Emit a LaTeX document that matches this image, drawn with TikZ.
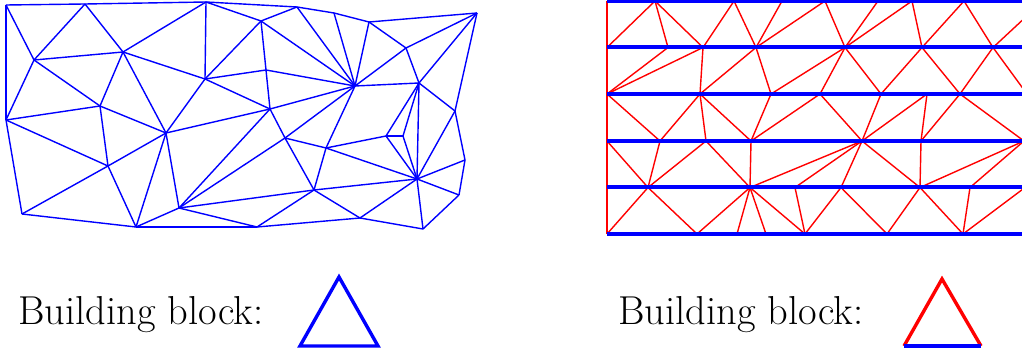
\documentclass[tikz,border=0pt]{standalone}
\usepackage{tikz}
\pgfdeclarelayer{edgelayer}
\pgfdeclarelayer{nodelayer}
\pgfsetlayers{edgelayer,nodelayer,main}
\tikzstyle{vertex}=[coordinate]
\tikzstyle{edge}=[draw=blue, line width=0.7pt]
\tikzstyle{redge}=[draw=red, line width=0.7pt]
\tikzstyle{layer}=[draw=blue, line width=2pt]
\tikzstyle{block}=[line width=1.7pt]
\tikzstyle{blocktext}=[anchor=base west, inner sep=0pt, font=\fontsize{20.2}{24}\selectfont]

\begin{document}
\begin{tikzpicture}[x=0.5pt, y=-0.5pt]
	\useasboundingbox (0, 0) rectangle (1022, 352);
	\begin{pgfonlayer}{nodelayer}
		% unstructured mesh
		\node [style=vertex] (0) at (6, 5) {};
		\node [style=vertex] (1) at (85, 4) {};
		\node [style=vertex] (2) at (206, 2) {};
		\node [style=vertex] (3) at (297, 7) {};
		\node [style=vertex] (4) at (334, 13) {};
		\node [style=vertex] (5) at (369, 22) {};
		\node [style=vertex] (6) at (477, 13) {};
		\node [style=vertex] (7) at (34, 60) {};
		\node [style=vertex] (8) at (123, 52) {};
		\node [style=vertex] (9) at (205, 79) {};
		\node [style=vertex] (10) at (261, 21) {};
		\node [style=vertex] (11) at (266, 70) {};
		\node [style=vertex] (12) at (355, 86) {};
		\node [style=vertex] (13) at (406, 48) {};
		\node [style=vertex] (14) at (419, 83) {};
		\node [style=vertex] (15) at (6, 120) {};
		\node [style=vertex] (16) at (100, 106) {};
		\node [style=vertex] (17) at (166, 133) {};
		\node [style=vertex] (18) at (270, 109) {};
		\node [style=vertex] (19) at (455, 111) {};
		\node [style=vertex] (20) at (108, 166) {};
		\node [style=vertex] (21) at (285, 138) {};
		\node [style=vertex] (22) at (326, 148) {};
		\node [style=vertex] (23) at (386, 136) {};
		\node [style=vertex] (24) at (403, 136) {};
		\node [style=vertex] (25) at (417, 179) {};
		\node [style=vertex] (26) at (465, 160) {};
		\node [style=vertex] (27) at (459, 195) {};
		\node [style=vertex] (28) at (22, 214) {};
		\node [style=vertex] (29) at (136, 227) {};
		\node [style=vertex] (30) at (179, 208) {};
		\node [style=vertex] (31) at (314, 190) {};
		\node [style=vertex] (32) at (360, 218) {};
		\node [style=vertex] (33) at (423, 229) {};
		\node [style=vertex] (34) at (257, 227) {};
		% layered mesh
		\node [style=vertex] (a0) at (607, 1) {};
		\node [style=vertex] (a1) at (655, 1) {};
		\node [style=vertex] (a2) at (734, 1) {};
		\node [style=vertex] (a3) at (782, 1) {};
		\node [style=vertex] (a4) at (825, 1) {};
		\node [style=vertex] (a5) at (878, 1) {};
		\node [style=vertex] (a6) at (912, 1) {};
		\node [style=vertex] (a7) at (964, 1) {};
		\node [style=vertex] (a8) at (1043, 1) {};
		\node [style=vertex] (b0) at (607, 47.5) {};
		\node [style=vertex] (b1) at (668, 47.5) {};
		\node [style=vertex] (b2) at (703, 47.5) {};
		\node [style=vertex] (b3) at (756, 47.5) {};
		\node [style=vertex] (b4) at (845, 47.5) {};
		\node [style=vertex] (b5) at (922, 47.5) {};
		\node [style=vertex] (b6) at (993, 47.5) {};
		\node [style=vertex] (b7) at (1030, 47.5) {};
		\node [style=vertex] (c0) at (607, 94) {};
		\node [style=vertex] (c1) at (700, 94) {};
		\node [style=vertex] (c2) at (771, 94) {};
		\node [style=vertex] (c3) at (820, 94) {};
		\node [style=vertex] (c4) at (881, 94) {};
		\node [style=vertex] (c5) at (927, 94) {};
		\node [style=vertex] (c6) at (960, 94) {};
		\node [style=vertex] (c7) at (1027, 94) {};
		\node [style=vertex] (d0) at (607, 141) {};
		\node [style=vertex] (d1) at (660, 141) {};
		\node [style=vertex] (d2) at (706, 141) {};
		\node [style=vertex] (d3) at (751, 141) {};
		\node [style=vertex] (d4) at (862, 141) {};
		\node [style=vertex] (d5) at (921, 141) {};
		\node [style=vertex] (d6) at (1024, 141) {};
		\node [style=vertex] (d7) at (1030, 141) {};
		\node [style=vertex] (e0) at (607, 187.5) {};
		\node [style=vertex] (e1) at (648, 187.5) {};
		\node [style=vertex] (e2) at (750, 187.5) {};
		\node [style=vertex] (e3) at (795, 187.5) {};
		\node [style=vertex] (e4) at (841, 187.5) {};
		\node [style=vertex] (e5) at (920, 187.5) {};
		\node [style=vertex] (e6) at (970, 187.5) {};
		\node [style=vertex] (e7) at (1025, 187.5) {};
		\node [style=vertex] (f0) at (607, 234) {};
		\node [style=vertex] (f1) at (697, 234) {};
		\node [style=vertex] (f2) at (737, 234) {};
		\node [style=vertex] (f3) at (766, 234) {};
		\node [style=vertex] (f4) at (805, 234) {};
		\node [style=vertex] (f5) at (887, 234) {};
		\node [style=vertex] (f6) at (963, 234) {};
		\node [style=vertex] (f7) at (1030, 234) {};
		% building blocks
		\node [style=vertex] (t1) at (300, 346) {};
		\node [style=vertex] (t2) at (339, 277) {};
		\node [style=vertex] (t3) at (378, 346) {};
		\node [style=vertex] (t4) at (904, 346) {};
		\node [style=vertex] (t5) at (942, 279) {};
		\node [style=vertex] (t6) at (981, 346) {};
	\end{pgfonlayer}
	\begin{pgfonlayer}{edgelayer}
		\draw [style=edge] (0) to (1);
		\draw [style=edge] (1) to (2);
		\draw [style=edge] (2) to (3);
		\draw [style=edge] (3) to (4);
		\draw [style=edge] (4) to (5);
		\draw [style=edge] (5) to (6);
		\draw [style=edge] (0) to (7);
		\draw [style=edge] (1) to (7);
		\draw [style=edge] (1) to (8);
		\draw [style=edge] (0) to (15);
		\draw [style=edge] (7) to (8);
		\draw [style=edge] (7) to (15);
		\draw [style=edge] (7) to (16);
		\draw [style=edge] (8) to (16);
		\draw [style=edge] (2) to (8);
		\draw [style=edge] (8) to (9);
		\draw [style=edge] (8) to (17);
		\draw [style=edge] (2) to (9);
		\draw [style=edge] (2) to (10);
		\draw [style=edge] (9) to (10);
		\draw [style=edge] (9) to (11);
		\draw [style=edge] (9) to (18);
		\draw [style=edge] (9) to (17);
		\draw [style=edge] (15) to (16);
		\draw [style=edge] (16) to (17);
		\draw [style=edge] (16) to (20);
		\draw [style=edge] (15) to (20);
		\draw [style=edge] (17) to (18);
		\draw [style=edge] (15) to (28);
		\draw [style=edge] (17) to (20);
		\draw [style=edge] (20) to (28);
		\draw [style=edge] (20) to (29);
		\draw [style=edge] (17) to (29);
		\draw [style=edge] (17) to (30);
		\draw [style=edge] (28) to (29);
		\draw [style=edge] (29) to (30);
		\draw [style=edge] (29) to (34);
		\draw [style=edge] (30) to (34);
		\draw [style=edge] (18) to (30);
		\draw [style=edge] (21) to (30);
		\draw [style=edge] (30) to (31);
		\draw [style=edge] (3) to (10);
		\draw [style=edge] (10) to (11);
		\draw [style=edge] (10) to (12);
		\draw [style=edge] (3) to (12);
		\draw [style=edge] (4) to (12);
		\draw [style=edge] (5) to (12);
		\draw [style=edge] (5) to (13);
		\draw [style=edge] (6) to (13);
		\draw [style=edge] (12) to (13);
		\draw [style=edge] (13) to (14);
		\draw [style=edge] (6) to (14);
		\draw [style=edge] (6) to (19);
		\draw [style=edge] (12) to (14);
		\draw [style=edge] (14) to (19);
		\draw [style=edge] (11) to (12);
		\draw [style=edge] (11) to (18);
		\draw [style=edge] (12) to (18);
		\draw [style=edge] (18) to (21);
		\draw [style=edge] (12) to (21);
		\draw [style=edge] (12) to (22);
		\draw [style=edge] (14) to (23);
		\draw [style=edge] (14) to (24);
		\draw [style=edge] (14) to (25);
		\draw [style=edge] (19) to (25);
		\draw [style=edge] (19) to (26);
		\draw [style=edge] (21) to (22);
		\draw [style=edge] (21) to (31);
		\draw [style=edge] (22) to (23);
		\draw [style=edge] (22) to (31);
		\draw [style=edge] (22) to (25);
		\draw [style=edge] (23) to (24);
		\draw [style=edge] (23) to (25);
		\draw [style=edge] (24) to (25);
		\draw [style=edge] (25) to (26);
		\draw [style=edge] (25) to (27);
		\draw [style=edge] (25) to (33);
		\draw [style=edge] (25) to (32);
		\draw [style=edge] (25) to (31);
		\draw [style=edge] (26) to (27);
		\draw [style=edge] (27) to (33);
		\draw [style=edge] (31) to (32);
		\draw [style=edge] (31) to (34);
		\draw [style=edge] (32) to (34);
		\draw [style=edge] (32) to (33);
		% red edges between the layers
		\draw [style=redge] (a0) to (f0);
		\draw [style=redge] (a1) to (b0);
		\draw [style=redge] (a1) to (b1);
		\draw [style=redge] (a1) to (b2);
		\draw [style=redge] (a2) to (b2);
		\draw [style=redge] (a2) to (b3);
		\draw [style=redge] (a3) to (b3);
		\draw [style=redge] (a4) to (b3);
		\draw [style=redge] (a4) to (b4);
		\draw [style=redge] (a5) to (b4);
		\draw [style=redge] (a6) to (b4);
		\draw [style=redge] (a6) to (b5);
		\draw [style=redge] (a7) to (b5);
		\draw [style=redge] (a7) to (b6);
		\draw [style=redge] (a8) to (b6);
		\draw [style=redge] (b1) to (c0);
		\draw [style=redge] (b2) to (c0);
		\draw [style=redge] (b2) to (c1);
		\draw [style=redge] (b3) to (c1);
		\draw [style=redge] (b3) to (c2);
		\draw [style=redge] (b4) to (c2);
		\draw [style=redge] (b4) to (c3);
		\draw [style=redge] (b4) to (c4);
		\draw [style=redge] (b5) to (c4);
		\draw [style=redge] (b5) to (c6);
		\draw [style=redge] (b6) to (c6);
		\draw [style=redge] (b6) to (c7);
		\draw [style=redge] (c0) to (d1);
		\draw [style=redge] (c1) to (d1);
		\draw [style=redge] (c1) to (d2);
		\draw [style=redge] (c1) to (d3);
		\draw [style=redge] (c2) to (d3);
		\draw [style=redge] (c3) to (d3);
		\draw [style=redge] (c3) to (d4);
		\draw [style=redge] (c4) to (d4);
		\draw [style=redge] (c5) to (d4);
		\draw [style=redge] (c5) to (d5);
		\draw [style=redge] (c6) to (d5);
		\draw [style=redge] (c6) to (d6);
		\draw [style=redge] (d0) to (e1);
		\draw [style=redge] (d1) to (e1);
		\draw [style=redge] (d2) to (e1);
		\draw [style=redge] (d2) to (e2);
		\draw [style=redge] (d3) to (e2);
		\draw [style=redge] (d4) to (e2);
		\draw [style=redge] (d4) to (e3);
		\draw [style=redge] (d4) to (e4);
		\draw [style=redge] (d4) to (e5);
		\draw [style=redge] (d5) to (e5);
		\draw [style=redge] (d6) to (e5);
		\draw [style=redge] (d6) to (e6);
		\draw [style=redge] (e1) to (f0);
		\draw [style=redge] (e1) to (f1);
		\draw [style=redge] (e2) to (f1);
		\draw [style=redge] (e2) to (f2);
		\draw [style=redge] (e2) to (f3);
		\draw [style=redge] (e2) to (f4);
		\draw [style=redge] (e3) to (f4);
		\draw [style=redge] (e4) to (f4);
		\draw [style=redge] (e4) to (f5);
		\draw [style=redge] (e5) to (f5);
		\draw [style=redge] (e5) to (f6);
		\draw [style=redge] (e6) to (f6);
		\draw [style=redge] (e7) to (f6);
	\end{pgfonlayer}
	% blue layers on top
	\draw [style=layer] (a0) to (a8);
	\draw [style=layer] (b0) to (b7);
	\draw [style=layer] (c0) to (c7);
	\draw [style=layer] (d0) to (d7);
	\draw [style=layer] (e0) to (e7);
	\draw [style=layer] (f0) to (f7);
	% building blocks
	\node [style=blocktext] (txt1) at (18, 324) {Building block:};
	\node [style=blocktext] (txt2) at (618, 324) {Building block:};
	\draw [style=block, blue] (t1) -- (t2) -- (t3) -- cycle;
	\draw [style=block, red] (t4) -- (t5) -- (t6);
	\draw [style=block, blue] (t4) -- (t6);
\end{tikzpicture}
\end{document}
